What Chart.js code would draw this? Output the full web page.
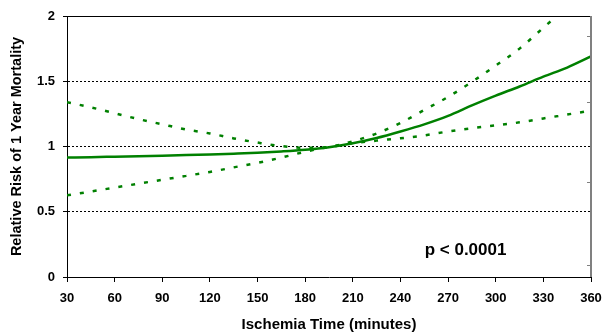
<!DOCTYPE html>
<html>
<head>
<meta charset="utf-8">
<script src="https://cdn.jsdelivr.net/npm/chart.js@4/dist/chart.umd.min.js"></script>
<style>
  html, body { margin: 0; padding: 0; background: #ffffff; }
  #wrap { width: 603px; height: 335px; position: relative; }
</style>
</head>
<body>
<div id="wrap"><canvas id="c" width="603" height="335"></canvas></div>
<script>
// Ischemia time (minutes)
const times = [30, 45, 60, 75, 90, 105, 120, 135, 150, 165, 180, 195, 210, 225, 240, 255, 270, 285, 300, 315, 330, 345, 360];
// Relative risk of 1-year mortality (point estimate)
const riskEstimate = [0.915, 0.918, 0.922, 0.926, 0.930, 0.934, 0.939, 0.945, 0.952, 0.962, 0.975, 0.995, 1.025, 1.065, 1.115, 1.17, 1.235, 1.315, 1.39, 1.46, 1.535, 1.605, 1.69];
// Upper 95% confidence bound
const upperCI = [1.34, 1.30, 1.255, 1.21, 1.17, 1.13, 1.10, 1.062, 1.03, 1.003, 0.99, 0.995, 1.04, 1.10, 1.18, 1.28, 1.38, 1.495, 1.62, 1.75, 1.91, 2.07, 2.24];
// Lower 95% confidence bound
const lowerCI = [0.626, 0.655, 0.685, 0.715, 0.745, 0.775, 0.805, 0.84, 0.875, 0.915, 0.96, 0.998, 1.025, 1.045, 1.063, 1.085, 1.115, 1.14, 1.162, 1.185, 1.215, 1.245, 1.275];
// Secondary (right) axis tick positions
const rightAxisTicks = [1.85, 1.34, 0.73, 0.09];
const pValueText = 'p < 0.0001';

const FONT = '"Liberation Sans", Arial, sans-serif';
const GREEN = '#008000';

const toPoints = arr => times.map((t, i) => ({ x: t, y: arr[i] }));

const decorPlugin = {
  id: 'decor',
  afterDraw(chart) {
    const { ctx, chartArea: a, scales } = chart;
    const y = scales.y, x = scales.x;
    ctx.save();
    // top border
    ctx.strokeStyle = '#000';
    ctx.lineWidth = 1;
    ctx.beginPath();
    ctx.moveTo(a.left - 4, Math.round(a.top) + 0.5);
    ctx.lineTo(a.right, Math.round(a.top) + 0.5);
    ctx.stroke();
    // right grey axis with inward ticks
    ctx.strokeStyle = '#808080';
    ctx.lineWidth = 2;
    ctx.beginPath();
    ctx.moveTo(a.right, a.top);
    ctx.lineTo(a.right, a.bottom);
    ctx.stroke();
    ctx.lineWidth = 1;
    rightAxisTicks.forEach(v => {
      const py = Math.round(y.getPixelForValue(v)) + 0.5;
      ctx.beginPath();
      ctx.moveTo(a.right - 4, py);
      ctx.lineTo(a.right, py);
      ctx.stroke();
    });
    // p-value annotation
    ctx.fillStyle = '#000';
    ctx.font = 'bold 17px ' + FONT;
    ctx.textAlign = 'center';
    ctx.textBaseline = 'middle';
    ctx.fillText(pValueText, x.getPixelForValue(281), y.getPixelForValue(0.205));
    ctx.restore();
  }
};

const lineDefaults = {
  borderColor: GREEN,
  backgroundColor: GREEN,
  borderWidth: 2.5,
  pointRadius: 0,
  fill: false,
  cubicInterpolationMode: 'monotone'
};

new Chart(document.getElementById('c'), {
  type: 'line',
  data: {
    datasets: [
      Object.assign({ label: 'Relative risk', data: toPoints(riskEstimate) }, lineDefaults),
      Object.assign({ label: 'Upper CI', data: toPoints(upperCI), borderDash: [4, 9] }, lineDefaults),
      Object.assign({ label: 'Lower CI', data: toPoints(lowerCI), borderDash: [4, 9] }, lineDefaults)
    ]
  },
  options: {
    responsive: false,
    animation: false,
    devicePixelRatio: 1,
    layout: { padding: { top: 16, right: 0, bottom: 0, left: 0 } },
    plugins: { legend: { display: false }, tooltip: { enabled: false } },
    scales: {
      x: {
        type: 'linear',
        min: 30, max: 360,
        afterFit(s) { s.height = 58; s.paddingRight = 12; s.paddingLeft = 0; },
        ticks: {
          stepSize: 30,
          color: '#000',
          font: { family: FONT, size: 13, weight: 'bold' },
          padding: 9,
          maxRotation: 0
        },
        grid: { drawOnChartArea: false, drawTicks: true, tickLength: 5, tickColor: '#000' },
        border: { color: '#000', width: 1 },
        title: {
          display: true,
          text: 'Ischemia Time (minutes)',
          color: '#000',
          font: { family: FONT, size: 15, weight: 'bold' },
          padding: { top: 0, bottom: 1 }
        }
      },
      y: {
        min: 0, max: 2,
        afterFit(s) { s.width = 67; },
        ticks: {
          stepSize: 0.5,
          color: '#000',
          font: { family: FONT, size: 13, weight: 'bold' },
          padding: 8,
          callback: v => String(v)
        },
        grid: {
          color: ctx => (ctx.tick && (ctx.tick.value === 0 || ctx.tick.value === 2)) ? 'rgba(0,0,0,0)' : '#000',
          lineWidth: 1,
          tickLength: 4,
          tickColor: '#000'
        },
        border: { color: '#000', width: 1, dash: [2, 2] },
        title: {
          display: true,
          text: 'Relative Risk of 1 Year Mortality',
          color: '#000',
          font: { family: FONT, size: 14.5, weight: 'bold' },
          padding: { top: 8, bottom: 0 }
        }
      }
    }
  },
  plugins: [decorPlugin]
});
</script>
</body>
</html>
